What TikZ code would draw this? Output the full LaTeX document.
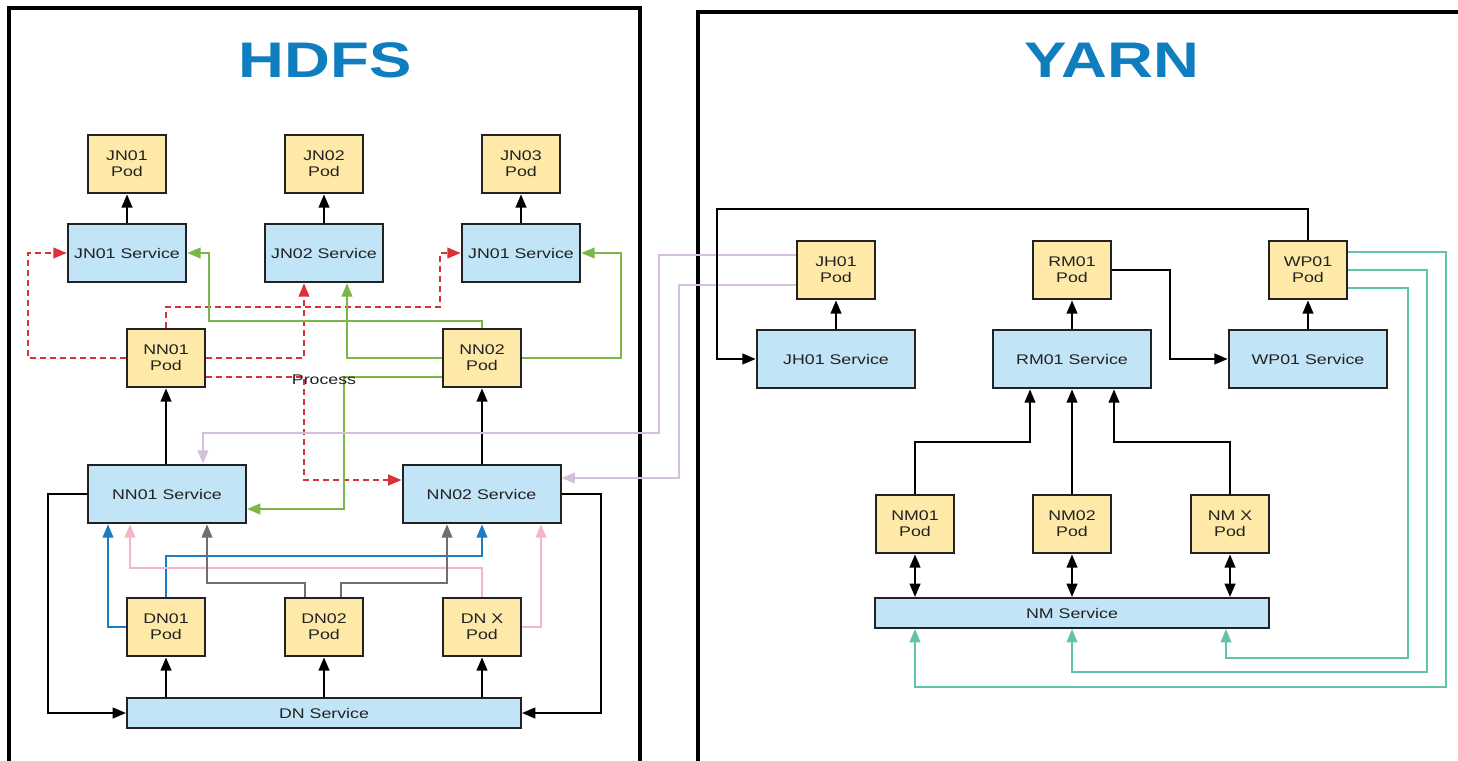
\documentclass[tikz,border=0pt]{standalone}
\usepackage{fontspec}
\setmainfont{Liberation Sans}[FakeStretch=1.27]
\usetikzlibrary{arrows.meta}
\definecolor{podfill}{HTML}{FFE9A8}
\definecolor{svcfill}{HTML}{C1E4F7}
\definecolor{bord}{HTML}{222222}
\definecolor{ttl}{HTML}{0E7EBE}
\definecolor{cred}{HTML}{D9303A}
\definecolor{cgreen}{HTML}{7AB648}
\definecolor{clav}{HTML}{D5C0DC}
\definecolor{cblue}{HTML}{1A7DC0}
\definecolor{cpink}{HTML}{F5B5C8}
\definecolor{cgray}{HTML}{6F6F6F}
\definecolor{cteal}{HTML}{63C2AC}
\begin{document}
\begin{tikzpicture}[x=0.75pt,y=-0.75pt,
  txt/.style={font=\fontsize{10.5}{12}\selectfont, text=bord},
  pod/.style={txt, draw=bord, line width=1.5pt, fill=podfill, minimum width=59pt, minimum height=44pt, inner sep=0pt, align=center},
  svc/.style={txt, draw=bord, line width=1.5pt, fill=svcfill, minimum height=44pt, inner sep=0pt, align=center},
  arr/.style={line width=1.6pt, draw=black, -{Triangle[length=10pt,width=8pt]}},
  arrtwo/.style={line width=1.6pt, draw=black, {Triangle[length=10pt,width=8pt]}-{Triangle[length=10pt,width=8pt]}},
  cline/.style={line width=1.4pt, -{Triangle[length=10pt,width=8pt]}},
  rd/.style={cline, draw=cred, dash pattern=on 4.5pt off 3pt},
  gr/.style={cline, draw=cgreen},
  lv/.style={cline, draw=clav},
  bl/.style={cline, draw=cblue},
  pk/.style={cline, draw=cpink},
  gy/.style={cline, draw=cgray},
  tl/.style={cline, draw=cteal},
  frame/.style={line width=2.6pt, draw=black},
  title/.style={font=\fontsize{37.5}{40}\selectfont\bfseries, text=ttl}
]
\useasboundingbox (0,0) rectangle (1458,760);
\clip (0,0) rectangle (1458,760);
\fill[white] (0,0) rectangle (1458,760);

% frames
\draw[frame] (9,775) -- (9,8) -- (640,8) -- (640,775);
\draw[frame] (698,775) -- (698,12) -- (1475,12);
\node[title] (thdfs) at (325,60) {HDFS};
\node[title] (tyarn) at (1112,60) {YARN};

% HDFS nodes
\node[pod] (jn1p) at (127,164) {JN01\\Pod};
\node[pod] (jn2p) at (324,164) {JN02\\Pod};
\node[pod] (jn3p) at (521,164) {JN03\\Pod};
\node[svc, minimum width=89pt] (jn1s) at (127,253) {JN01 Service};
\node[svc, minimum width=89pt] (jn2s) at (324,253) {JN02 Service};
\node[svc, minimum width=89pt] (jn3s) at (521,253) {JN01 Service};
\node[pod] (nn1p) at (166,358) {NN01\\Pod};
\node[pod] (nn2p) at (482,358) {NN02\\Pod};
\node[svc, minimum width=118.5pt] (nn1s) at (167,494) {NN01 Service};
\node[svc, minimum width=118.5pt] (nn2s) at (481.5,494) {NN02 Service};
\node[pod] (dn1p) at (166,627) {DN01\\Pod};
\node[pod] (dn2p) at (324,627) {DN02\\Pod};
\node[pod] (dnxp) at (482,627) {DN X\\Pod};
\node[svc, minimum width=295.5pt, minimum height=22pt] (dns) at (324,713) {DN Service};

% YARN nodes
\node[pod] (jhp) at (836,270) {JH01\\Pod};
\node[pod] (rmp) at (1072,270) {RM01\\Pod};
\node[pod] (wpp) at (1308,270) {WP01\\Pod};
\node[svc, minimum width=119pt] (jhs) at (836,359) {JH01 Service};
\node[svc, minimum width=119pt] (rms) at (1072,359) {RM01 Service};
\node[svc, minimum width=119pt] (wps) at (1308,359) {WP01 Service};
\node[pod] (nm1p) at (915,524) {NM01\\Pod};
\node[pod] (nm2p) at (1072,524) {NM02\\Pod};
\node[pod] (nmxp) at (1230,524) {NM X\\Pod};
\node[svc, minimum width=296pt, minimum height=22.5pt] (nms) at (1072,613) {NM Service};

% HDFS black arrows
\draw[arr] (jn1s) -- (jn1p);
\draw[arr] (jn2s) -- (jn2p);
\draw[arr] (jn3s) -- (jn3p);
\draw[arr] (nn1s.north -| nn1p) -- (nn1p.south);
\draw[arr] (nn2s.north -| nn2p) -- (nn2p.south);
\draw[arr] (dns.north -| dn1p) -- (dn1p.south);
\draw[arr] (dns.north -| dn2p) -- (dn2p.south);
\draw[arr] (dns.north -| dnxp) -- (dnxp.south);
\draw[arr] (nn1s.west) -- (48,494) |- (dns.west);
\draw[arr] (nn2s.east) -- (601,494) |- (dns.east);

% red dashed
\draw[rd] (nn1p.west) -- (28,358) |- (jn1s.west);
\draw[rd] (nn1p.east) -| (jn2s.south -| 304,0);
\draw[rd] (nn1p.north) |- (440,307) |- (jn3s.west);
\draw[rd] (nn1p.east |- 0,377) -| (304,480) -- (nn2s.west |- 0,480);

% green
\draw[gr] (nn2p.north) |- (209,321) |- (jn1s.east);
\draw[gr] (nn2p.west) -| (jn2s.south -| 347,0);
\draw[gr] (nn2p.east) -- (621,358) |- (jn3s.east);
\draw[gr] (nn2p.west |- 0,377) -| (344,509) -- (nn1s.east |- 0,509);

\node[txt] (proc) at (324,380) {Process};

% lavender
\draw[lv] (jhp.west |- 0,255) -| (659,433) -| (nn1s.north -| 203,0);
\draw[lv] (jhp.west |- 0,285) -| (679,478) -- (nn2s.east |- 0,478);

% DN to NN
\draw[bl] (dn1p.west) -| (nn1s.south -| 108,0);
\draw[bl] (dn1p.north) |- (482,556) -- (nn2s.south -| 482,0);
\draw[pk] (dnxp.north) |- (130,568) -- (nn1s.south -| 130,0);
\draw[pk] (dnxp.east) -| (nn2s.south -| 541,0);
\draw[gy] (dn2p.north -| 305,0) |- (207,583) -- (nn1s.south -| 207,0);
\draw[gy] (dn2p.north -| 341,0) |- (447,583) -- (nn2s.south -| 447,0);

% YARN black
\draw[arr] (jhs) -- (jhp);
\draw[arr] (rms) -- (rmp);
\draw[arr] (wps) -- (wpp);
\draw[arr] (wpp.north) |- (717,209) |- (jhs.west);
\draw[arr] (rmp.east) -- (1170,270) |- (wps.west);
\draw[arr] (nm1p.north) |- (1030,442) -- (rms.south -| 1030,0);
\draw[arr] (nm2p.north) -- (rms.south);
\draw[arr] (nmxp.north) |- (1114,442) -- (rms.south -| 1114,0);
\draw[arrtwo] (nm1p.south) -- (nms.north -| nm1p.south);
\draw[arrtwo] (nm2p.south) -- (nms.north -| nm2p.south);
\draw[arrtwo] (nmxp.south) -- (nms.north -| nmxp.south);

% teal
\draw[tl] (wpp.east |- 0,252) -| (1446,687) -| (nms.south -| 915,0);
\draw[tl] (wpp.east |- 0,270) -| (1427,672) -| (nms.south -| 1072,0);
\draw[tl] (wpp.east |- 0,288) -| (1408,658) -| (nms.south -| 1226,0);
\end{tikzpicture}
\end{document}
